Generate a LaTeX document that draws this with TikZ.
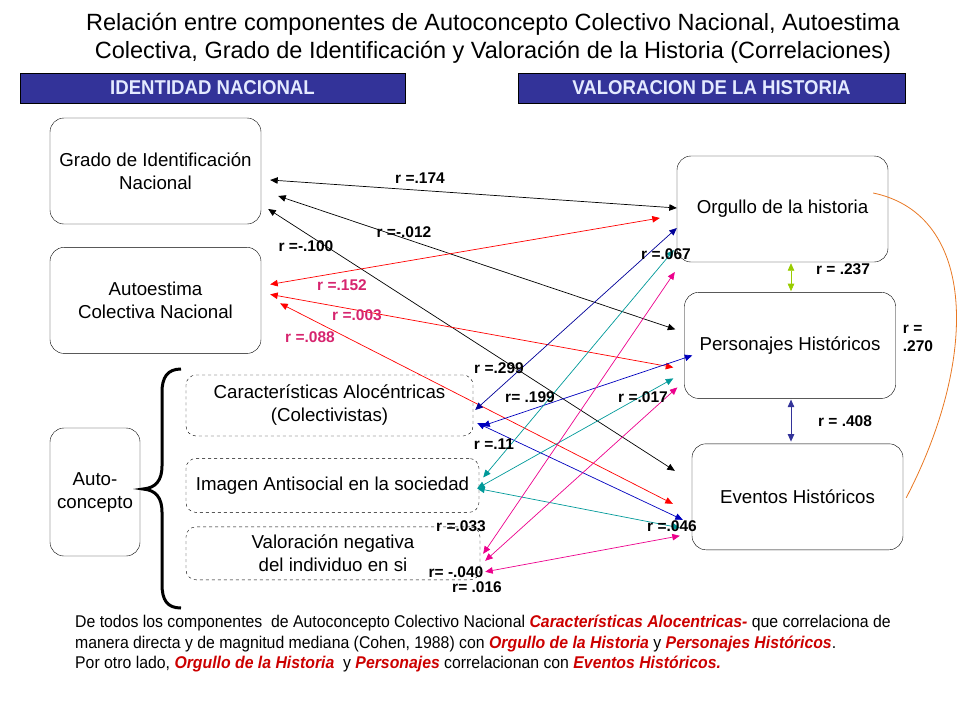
\documentclass[tikz,border=0pt]{standalone}
\usepackage{fontspec}
\setmainfont{Liberation Sans}
\newfontfamily\narrowfont[FakeStretch=0.93]{Liberation Sans}
\usetikzlibrary{arrows.meta,positioning,calc}

\definecolor{hdrblue}{RGB}{51,51,153}
\definecolor{hdrtext}{RGB}{228,234,255}
\definecolor{lblred}{RGB}{214,36,110}
\definecolor{hlred}{RGB}{204,0,0}
\definecolor{linkblue}{RGB}{0,0,190}
\definecolor{linkteal}{RGB}{0,153,153}
\definecolor{linkgreen}{RGB}{153,204,0}
\definecolor{linknavy}{RGB}{51,51,153}
\definecolor{linkorange}{RGB}{232,119,34}

\newcommand{\hlt}[1]{\textcolor{hlred}{\textbf{\textit{#1}}}}

\begin{document}
\begin{tikzpicture}[x=1pt,y=-1pt,
    box/.style={draw,rounded corners=14pt,align=center,inner sep=2pt,font=\fontsize{18.7}{23}\selectfont,minimum width=211pt,minimum height=106pt},
    dbox/.style={box,dashed,rounded corners=10pt},
    header/.style={draw=black,fill=hdrblue,text=hdrtext,font=\narrowfont\bfseries\fontsize{20}{22}\selectfont,minimum height=30pt,inner sep=0pt},
    lbl/.style={font=\bfseries\fontsize{15.5}{18}\selectfont,inner sep=1pt},
    link/.style={<->,>={Triangle[length=7.5pt,width=6.5pt]},line width=0.7pt}
]
\useasboundingbox (0,0) rectangle (960,720);

% title and headers
\node[align=center,font=\fontsize{23.5}{28}\selectfont] (title) at (493,38) {Relación entre componentes de Autoconcepto Colectivo Nacional, Autoestima\\Colectiva, Grado de Identificación y Valoración de la Historia (Correlaciones)};
\node[header,minimum width=385pt] (idnac) at (212.5,88) {IDENTIDAD NACIONAL};
\node[header,minimum width=387pt] (valhis) at (711.5,88) {VALORACION DE LA HISTORIA};

% identidad nacional
\node[box] (grado) at (155.5,171) {Grado de Identificación\\Nacional};
\node[box,below=23pt of grado] (autoest) {Autoestima\\Colectiva Nacional};
\node[box,minimum width=90pt,minimum height=128pt] (auto) at (95,492) {Auto-\\concepto};
\node[dbox,minimum width=287pt,minimum height=61pt] (carac) at (329.5,405.5) {Características Alocéntricas\\(Colectivistas)};
\node[dbox,minimum width=293pt,minimum height=54pt,below=22pt of carac.south west,anchor=north west] (imagen) {Imagen Antisocial en la sociedad};
\node[dbox,minimum width=294pt,minimum height=53pt,below=14pt of imagen.south west,anchor=north west] (valor) {Valoración negativa\\del individuo en si};

% brace
\draw[line width=3pt] (181,369) .. controls (167,369) and (162,378) .. (162,392) -- (162,466)
    .. controls (162,480) and (156,488) .. (143,489) .. controls (156,490) and (162,498) .. (162,512)
    -- (162,584) .. controls (162,600) and (167,608) .. (181,608);

% valoracion de la historia
\node[box] (orgullo) at (782.5,209) {Orgullo de la historia};
\node[box,below=30pt of orgullo,xshift=7.5pt] (personajes) {Personajes Históricos};
\node[box,below=45pt of personajes,xshift=7.5pt] (eventos) {Eventos Históricos};

% grado
\draw[link] ($(grado.east)+(9,9)$) -- ($(orgullo.west)+(0,-1)$);
\draw[link] ($(grado.east)+(17,25)$) -- ($(personajes.west)+(-9,-16)$);
\draw[link] ($(grado.east)+(7,38)$) -- ($(eventos.west)+(-17,-26)$);
% autoestima
\draw[link,red] ($(autoest.east)+(9,-16)$) -- ($(orgullo.west)+(-17,9)$);
\draw[link,red] ($(autoest.east)+(9,-6)$) -- ($(personajes.west)+(-11,22)$);
\draw[link,red] ($(autoest.east)+(19,3)$) -- ($(eventos.west)+(-19,7)$);
% caracteristicas
\draw[link,linkblue!80!black] ($(carac.east)+(2,4.5)$) -- ($(orgullo.west)+(0,19)$);
\draw[link,linkblue] ($(carac.east)+(9,20.5)$) -- ($(personajes.west)+(8,10)$);
\draw[link,linkblue] ($(carac.east)+(4,17.5)$) -- ($(eventos.west)+(-9,23)$);
% imagen
\draw[link,linkteal] ($(imagen.east)+(4,-8)$) -- ($(orgullo.west)+(-3,41)$);
\draw[link,linkteal] ($(imagen.east)+(-2,3)$) -- ($(personajes.west)+(-11,33)$);
\draw[link,linkteal] ($(imagen.east)+(-2,3)$) -- ($(eventos.west)+(-12,31)$);
% valoracion negativa
\draw[link,magenta] ($(valor.east)+(3,0.5)$) -- ($(orgullo.west)+(-2,63)$);
\draw[link,magenta] ($(valor.east)+(5,7.5)$) -- ($(personajes.west)+(-7,42)$);
\draw[link,magenta] ($(valor.east)+(5,18.5)$) -- ($(eventos.west)+(-12,39)$);
% historia
\draw[link,linkgreen] ($(orgullo.south)+(8.5,1)$) -- ($(personajes.north)+(1,-1)$);
\draw[link,linknavy] ($(personajes.south)+(1,1)$) -- ($(eventos.north)+(-6.5,-2)$);
\draw[linkorange,line width=0.8pt] ($(orgullo.east)+(-15,-16)$) .. controls (978,215) and (978,360) .. ($(eventos.east)+(3,1)$);

% correlations
\node[lbl] (r174) at (420,178) {r =.174};
\node[lbl] (r012) at (404,232) {r =-.012};
\node[lbl] (r100) at (306,246) {r =-.100};
\node[lbl,text=lblred] (r152) at (342,285) {r =.152};
\node[lbl,text=lblred] (r003) at (357,315) {r =.003};
\node[lbl,text=lblred] (r088) at (310,337) {r =.088};
\node[lbl] (r067) at (666,254) {r =.067};
\node[lbl] (r299) at (499,368) {r =.299};
\node[lbl] (r199) at (530,397) {r= .199};
\node[lbl] (r017) at (643,397) {r =.017};
\node[lbl] (r11) at (494,444) {r =.11};
\node[lbl] (r033) at (461,526) {r =.033};
\node[lbl] (r046) at (672,526) {r =.046};
\node[lbl] (r040) at (456,572) {r= -.040};
\node[lbl] (r016) at (477,587) {r= .016};
\node[lbl] (r237) at (843,269) {r = .237};
\node[lbl] (r408) at (845,421) {r = .408};
\node[lbl,align=left] (r270) at (918,338) {r =\\.270};

% note
\node[anchor=north west,align=left,inner sep=0pt,font=\narrowfont\fontsize{17}{20.5}\selectfont] (note) at (75,615)
  {De todos los componentes \ de Autoconcepto Colectivo Nacional \hlt{Características Alocentricas-} que correlaciona de\\
   manera directa y de magnitud mediana (Cohen, 1988) con \hlt{Orgullo de la Historia} y \hlt{Personajes Históricos}.\\
   Por otro lado, \hlt{Orgullo de la Historia} \ y \hlt{Personajes} correlacionan con \hlt{Eventos Históricos.}};

\end{tikzpicture}
\end{document}
